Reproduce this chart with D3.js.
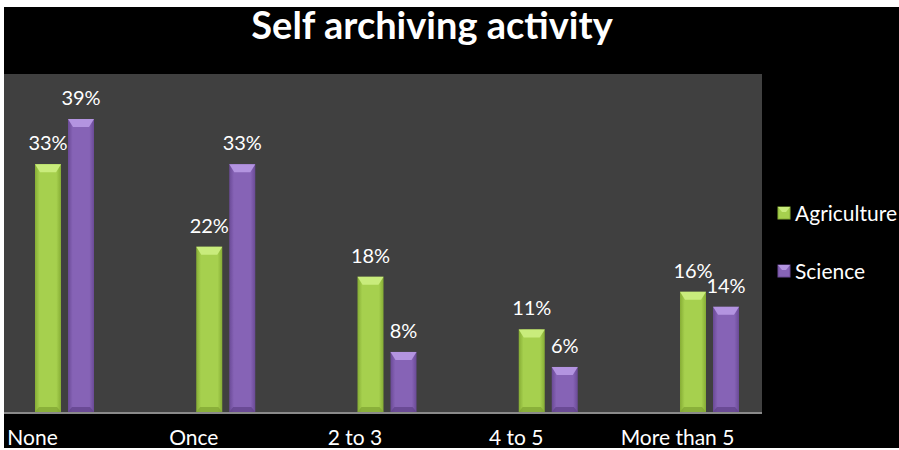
<!DOCTYPE html>
<html>
<head>
<meta charset="utf-8">
<script src="https://cdn.jsdelivr.net/npm/d3@7"></script>
<style>
  html, body { margin: 0; padding: 0; background: #ffffff; }
  svg { display: block; }
  text { font-family: Lato, "Open Sans", sans-serif; fill: #ffffff; }
</style>
</head>
<body>
<script>
const categories = ["None", "Once", "2 to 3", "4 to 5", "More than 5"];
const seriesNames = ["Agriculture", "Science"];
const agriculture = [33, 22, 18, 11, 16];
const science = [39, 33, 8, 6, 14];
const titleText = "Self archiving activity";

const W = 899, H = 450;
const svg = d3.select("body").append("svg").attr("width", W).attr("height", H);

// palette per series: body, edge, bevel highlight, bevel bottom
const palette = [
  { mid: "#a6d04e", edge: "#86ad35", top: "#c9ec7c", bottom: "#7fa232" },
  { mid: "#8663b6", edge: "#6a4a96", top: "#b394e0", bottom: "#5e4088" }
];

const defs = svg.append("defs");
palette.forEach((p, i) => {
  const g = defs.append("linearGradient").attr("id", "body" + i)
    .attr("x1", "0").attr("x2", "1").attr("y1", "0").attr("y2", "0");
  g.append("stop").attr("offset", "0").attr("stop-color", p.edge);
  g.append("stop").attr("offset", "0.18").attr("stop-color", p.mid);
  g.append("stop").attr("offset", "0.82").attr("stop-color", p.mid);
  g.append("stop").attr("offset", "1").attr("stop-color", p.edge);
});

// outer frame
svg.append("rect").attr("x", 4).attr("y", 7).attr("width", W - 4).attr("height", H - 9).attr("fill", "#000000");

// plot area
const plot = { left: 4, right: 762, top: 74, bottom: 412 };
svg.append("rect").attr("x", plot.left).attr("y", plot.top)
  .attr("width", plot.right - plot.left).attr("height", plot.bottom - plot.top)
  .attr("fill", "#404040");

const x = d3.scalePoint().domain(categories).range([64, 709]);
const y = d3.scaleLinear().domain([0, 45]).range([plot.bottom, plot.top]);

const barW = 26;
const offsets = [-29, 4];
const series = [agriculture, science];

series.forEach((vals, si) => {
  const p = palette[si];
  const g = svg.append("g");
  vals.forEach((v, ci) => {
    const x0 = x(categories[ci]) + offsets[si];
    const y0 = y(v);
    const h = y(0) - y0;
    const bg = g.append("g");
    bg.append("rect").attr("x", x0).attr("y", y0).attr("width", barW).attr("height", h)
      .attr("fill", `url(#body${si})`);
    // top bevel
    bg.append("path")
      .attr("d", `M${x0},${y0} L${x0 + barW},${y0} L${x0 + barW - 5},${y0 + 8} L${x0 + 5},${y0 + 8} Z`)
      .attr("fill", p.top);
    // bottom bevel
    bg.append("path")
      .attr("d", `M${x0},${y(0)} L${x0 + barW},${y(0)} L${x0 + barW - 4},${y(0) - 5} L${x0 + 4},${y(0) - 5} Z`)
      .attr("fill", p.bottom).attr("opacity", 0.7);
    // value label
    g.append("text")
      .attr("x", x0 + barW / 2)
      .attr("y", y0 - 14)
      .attr("text-anchor", "middle")
      .attr("font-size", 20)
      .text(v + "%");
  });
});

// baseline
svg.append("line").attr("x1", plot.left).attr("x2", plot.right)
  .attr("y1", plot.bottom + 1).attr("y2", plot.bottom + 1)
  .attr("stroke", "#8a8a8a").attr("stroke-width", 2);

// category axis
const axis = d3.axisBottom(x).tickSize(0).tickPadding(0);
const ax = svg.append("g").attr("transform", `translate(-32, ${plot.bottom})`).call(axis);
ax.select(".domain").remove();
ax.selectAll("text").attr("font-size", 21).attr("dy", 0).attr("y", 33)
  .style("fill", "#ffffff").attr("font-family", "Lato, sans-serif");

// title
svg.append("text").attr("x", 432).attr("y", 39).attr("text-anchor", "middle")
  .attr("font-size", 38).attr("font-weight", "bold").text(titleText);

// legend
const legend = svg.append("g");
seriesNames.forEach((name, i) => {
  const p = palette[i];
  const ly = 207 + i * 58;
  legend.append("rect").attr("x", 778).attr("y", ly).attr("width", 12).attr("height", 12)
    .attr("fill", p.mid).attr("stroke", p.edge).attr("stroke-width", 1);
  legend.append("path")
    .attr("d", `M778,${ly} L790,${ly} L786,${ly + 5} L782,${ly + 5} Z`)
    .attr("fill", p.top);
  legend.append("text").attr("x", 795).attr("y", ly + 14).attr("font-size", 21).text(name);
});
</script>
</body>
</html>
